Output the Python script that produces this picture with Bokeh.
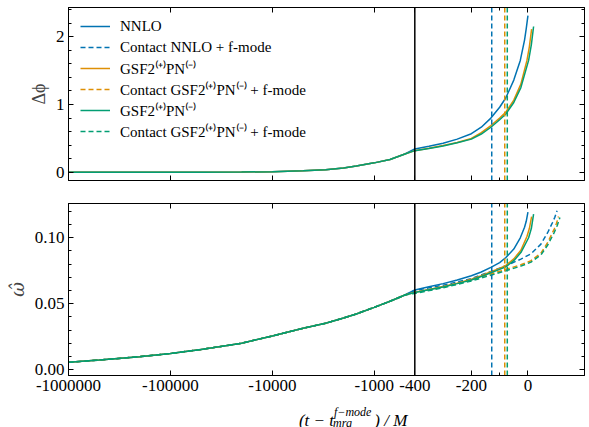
import numpy as np
from bokeh.plotting import figure
from bokeh.models import (Range1d, FixedTicker, LinearAxis, CustomJSTickFormatter,
                          Legend, LegendItem, PrintfTickFormatter)
from bokeh.core.properties import value
from bokeh.layouts import column
from bokeh.embed import file_html
from bokeh.resources import INLINE

# ---------------- data ----------------
x_tick_values = [-1000000, -100000, -10000, -1000, -400, -200, 0]
x_tick_labels = ["-1000000", "-100000", "-10000", "-1000", "-400", "-200", "0"]
x_minor_values = [-100]
x_limits = [-1000000, 200]
t_hybrid = -400

# common early inspiral (all models overlap)
t_early = [-1000000, -500000, -200000, -100000, -50000, -20000, -10000,
           -5000, -3000, -2000, -1500, -1000, -700, -500]
dphi_early = [0.0, 0.0, 0.0, 0.001, 0.002, 0.005, 0.01, 0.022, 0.040, 0.065, 0.095,
              0.14, 0.19, 0.27]
omega_early = [0.0055, 0.0072, 0.0098, 0.0122, 0.0152, 0.0200, 0.0255,
               0.0313, 0.0352, 0.0391, 0.0422, 0.0472, 0.0518, 0.0566]

# NNLO
t_nnlo = [-400, -350, -300, -250, -200, -165, -131, -100, -78, -50, -27, -12, -6, 0]
dphi_nnlo = [0.345, 0.385, 0.43, 0.49, 0.57, 0.665, 0.80, 0.96, 1.10, 1.36, 1.65, 1.95,
             2.12, 2.31]
omega_nnlo = [0.0604, 0.0628, 0.0652, 0.0680, 0.0712, 0.0740, 0.0775, 0.0812, 0.0850,
              0.0914, 0.1000, 0.1080, 0.1125, 0.1195]

# GSF2(+)PN(-) (orange)
t_gsf_a = [-400, -350, -300, -250, -200, -165, -131, -100, -78, -50, -25, -3.5, 5, 13]
dphi_gsf_a = [0.32, 0.355, 0.395, 0.44, 0.50, 0.585, 0.69, 0.80, 0.89, 1.065, 1.30,
              1.65, 1.85, 2.11]
omega_gsf_a = [0.0586, 0.0608, 0.0630, 0.0656, 0.0685, 0.0712, 0.0742, 0.0768, 0.0790,
               0.0840, 0.0905, 0.1010, 0.1070, 0.1161]

# GSF2(+)PN(-) (green)
t_gsf_b = [-400, -350, -300, -250, -200, -165, -131, -100, -78, -50, -25, 2.4, 12, 20]
dphi_gsf_b = [0.32, 0.352, 0.39, 0.435, 0.49, 0.565, 0.665, 0.775, 0.86, 1.03, 1.25,
              1.65, 1.88, 2.15]
omega_gsf_b = [0.0584, 0.0605, 0.0627, 0.0652, 0.0680, 0.0706, 0.0735, 0.0760, 0.0780,
               0.0826, 0.0888, 0.1000, 0.1070, 0.1180]

# Contact ... + f-mode (omega only)
t_c_nnlo = [-400, -300, -200, -131, -78, -25, 11, 46, 70, 87, 95, 103]
omega_c_nnlo = [0.0600, 0.0640, 0.0690, 0.0745, 0.0788, 0.0838, 0.0878, 0.0952,
                0.1040, 0.1116, 0.1155, 0.1205]
t_c_gsf_a = [-400, -300, -200, -131, -78, -25, 11, 46, 70, 93, 101, 108]
omega_c_gsf_a = [0.0583, 0.0625, 0.0678, 0.0725, 0.0760, 0.0795, 0.0826, 0.0884,
                 0.0965, 0.1066, 0.1110, 0.1161]
t_c_gsf_b = [-400, -300, -200, -131, -78, -25, 11, 46, 70, 93, 104, 113]
omega_c_gsf_b = [0.0578, 0.0620, 0.0672, 0.0716, 0.0750, 0.0785, 0.0815, 0.0870,
                 0.0945, 0.1040, 0.1095, 0.1154]

# contact times
t_contact = [-128, -82, -73]

labels = ["NNLO", "Contact NNLO + f-mode",
          "GSF2⁽⁺⁾PN⁽⁻⁾", "Contact GSF2⁽⁺⁾PN⁽⁻⁾ + f-mode",
          "GSF2⁽⁺⁾PN⁽⁻⁾", "Contact GSF2⁽⁺⁾PN⁽⁻⁾ + f-mode"]
colors = ["#0173b2", "#de8f05", "#029e73"]

# x-axis title pieces: (t − t_mrg^{f−mode}) / M
xlabel_main = ["(t − t", ") / M"]
xlabel_scripts = ["f−mode", "mrg"]

# -------------- symlog-like x transform --------------
LOGW = 101.8   # per decade
LINW = 0.2825  # per unit of t in the linear part


def fwd(t):
    t = np.asarray(t, dtype=float)
    return np.where(t <= t_hybrid,
                    -np.log10(np.maximum(-t, 1e-12) / -t_hybrid) * LOGW,
                    (t - t_hybrid) * LINW)


x_range = Range1d(float(fwd(x_limits[0])), float(fwd(x_limits[1])))
y1_range = Range1d(-0.12, 2.43)
y2_range = Range1d(-0.0045, 0.126)

xt_pos = [float(v) for v in fwd(x_tick_values)]
xt_minor = [float(v) for v in fwd(x_minor_values)]
x_ticker = FixedTicker(ticks=xt_pos, minor_ticks=xt_minor)
x_fmt = CustomJSTickFormatter(args=dict(pos=xt_pos, labs=x_tick_labels), code="""
for (let i = 0; i < pos.length; i++) { if (Math.abs(pos[i] - tick) < 1e-6) return labs[i]; }
return "";
""")
blank_fmt = CustomJSTickFormatter(code="return '';")

FONT = "Liberation Serif"


def style_axis(ax, show):
    ax.axis_line_color = "black"
    ax.axis_line_width = 1
    ax.major_tick_in = 5
    ax.major_tick_out = 0
    ax.minor_tick_in = 3
    ax.minor_tick_out = 0
    ax.major_tick_line_color = "black"
    ax.minor_tick_line_color = "black"
    ax.major_label_text_font = FONT
    ax.major_label_text_color = "black"
    if show:
        ax.major_label_text_font_size = "17px"
        ax.major_label_standoff = 4
    else:
        ax.major_label_text_font_size = "1px"
        ax.major_label_standoff = 0
        ax.axis_label_standoff = 0


def make_fig(height, yr, btop, bbot, yticker, yfmt, ylabel, yfont, ystyle, show_x):
    p = figure(width=589, height=height, x_range=x_range, y_range=yr,
               output_backend="svg", toolbar_location=None,
               x_axis_type=None, y_axis_type=None,
               min_border_left=68, min_border_right=5,
               min_border_top=btop, min_border_bottom=bbot)
    p.grid.visible = False
    p.outline_line_color = "black"
    p.background_fill_color = "white"
    p.border_fill_color = "white"

    xb = LinearAxis(ticker=x_ticker, formatter=x_fmt if show_x else blank_fmt)
    style_axis(xb, show_x)
    p.add_layout(xb, "below")
    xa = LinearAxis(ticker=x_ticker, formatter=blank_fmt)
    style_axis(xa, False)
    p.add_layout(xa, "above")

    yl = LinearAxis(ticker=yticker, formatter=yfmt, axis_label=ylabel)
    style_axis(yl, True)
    yl.axis_label_text_font = yfont
    yl.axis_label_text_font_size = "18px"
    yl.axis_label_text_font_style = ystyle
    yl.axis_label_standoff = 4
    p.add_layout(yl, "left")
    yr_ax = LinearAxis(ticker=yticker, formatter=blank_fmt)
    style_axis(yr_ax, False)
    p.add_layout(yr_ax, "right")
    return p


LW = 1.5
DASH = "5 3"

# ---------------- top panel ----------------
y1_ticker = FixedTicker(ticks=[0, 1, 2],
                        minor_ticks=[0.2, 0.4, 0.6, 0.8, 1.2, 1.4, 1.6, 1.8, 2.2, 2.4])
p1 = make_fig(190, y1_range, 7, 10, y1_ticker, PrintfTickFormatter(format="%d"),
              "Δϕ", FONT, "normal", False)

u_early = fwd(t_early)
r_nnlo = p1.line(np.concatenate([u_early, fwd(t_nnlo)]), dphi_early + dphi_nnlo,
                 line_color=colors[0], line_width=LW)
r_ga = p1.line(np.concatenate([u_early, fwd(t_gsf_a)]), dphi_early + dphi_gsf_a,
               line_color=colors[1], line_width=LW)
r_gb = p1.line(np.concatenate([u_early, fwd(t_gsf_b)]), dphi_early + dphi_gsf_b,
               line_color=colors[2], line_width=LW)
r_cont = []
for tc, c in zip(t_contact, colors):
    uc = float(fwd(tc))
    r_cont.append(p1.segment(x0=[uc], x1=[uc], y0=[y1_range.start], y1=[y1_range.end],
                             line_color=c, line_width=LW, line_dash=DASH))
uh = float(fwd(t_hybrid))
p1.segment(x0=[uh], x1=[uh], y0=[y1_range.start], y1=[y1_range.end],
           line_color="black", line_width=1.5)

legend = Legend(items=[
    LegendItem(label=labels[0], renderers=[r_nnlo]),
    LegendItem(label=labels[1], renderers=[r_cont[0]]),
    LegendItem(label=labels[2], renderers=[r_ga]),
    LegendItem(label=labels[3], renderers=[r_cont[1]]),
    LegendItem(label=labels[4], renderers=[r_gb]),
    LegendItem(label=labels[5], renderers=[r_cont[2]]),
], location=(8, 35))
legend.background_fill_alpha = 0
legend.border_line_alpha = 0
legend.padding = 4
legend.spacing = 1
legend.label_height = 20
legend.glyph_height = 20
legend.glyph_width = 30
legend.label_standoff = 10
legend.label_text_font = FONT
legend.label_text_font_size = "15px"
legend.label_text_color = "black"
p1.add_layout(legend, "center")

# ---------------- bottom panel ----------------
y2_ticker = FixedTicker(ticks=[0.0, 0.05, 0.10],
                        minor_ticks=[0.01, 0.02, 0.03, 0.04, 0.06, 0.07, 0.08, 0.09, 0.11, 0.12])
p2 = make_fig(210, y2_range, 13, 25, y2_ticker, PrintfTickFormatter(format="%.2f"),
              "ω̂", "DejaVu Serif", "italic", True)

p2.line(np.concatenate([u_early, fwd(t_nnlo)]), omega_early + omega_nnlo,
        line_color=colors[0], line_width=LW)
p2.line(np.concatenate([u_early, fwd(t_c_nnlo)]), omega_early + omega_c_nnlo,
        line_color=colors[0], line_width=LW, line_dash=DASH)
p2.line(np.concatenate([u_early, fwd(t_gsf_a)]), omega_early + omega_gsf_a,
        line_color=colors[1], line_width=LW)
p2.line(np.concatenate([u_early, fwd(t_c_gsf_a)]), omega_early + omega_c_gsf_a,
        line_color=colors[1], line_width=LW, line_dash=DASH)
p2.line(np.concatenate([u_early, fwd(t_gsf_b)]), omega_early + omega_gsf_b,
        line_color=colors[2], line_width=LW)
p2.line(np.concatenate([u_early, fwd(t_c_gsf_b)]), omega_early + omega_c_gsf_b,
        line_color=colors[2], line_width=LW, line_dash=DASH)
for tc, c in zip(t_contact, colors):
    uc = float(fwd(tc))
    p2.segment(x0=[uc], x1=[uc], y0=[y2_range.start], y1=[y2_range.end],
               line_color=c, line_width=LW, line_dash=DASH)
p2.segment(x0=[uh], x1=[uh], y0=[y2_range.start], y1=[y2_range.end],
           line_color="black", line_width=1.5)

# ---------------- x-axis title strip ----------------
p3 = figure(width=589, height=27, x_range=Range1d(0, 589), y_range=Range1d(0, 27),
            output_backend="svg", toolbar_location=None, title=None,
            x_axis_type=None, y_axis_type=None,
            min_border_left=0, min_border_right=0, min_border_top=0, min_border_bottom=0)
p3.grid.visible = False
p3.outline_line_color = None
p3.border_fill_color = "white"
p3.background_fill_color = "white"

# main-size pieces (left edge px, baseline px above strip bottom)
p3.text(x=[263, 349], y=[7, 7], text=xlabel_main, text_font=value(FONT),
        text_font_style="italic", text_font_size=value("17px"), text_color="black",
        text_baseline="alphabetic", text_align="left")
# superscript / subscript
p3.text(x=[303, 302], y=[15.5, 5], text=xlabel_scripts, text_font=value(FONT),
        text_font_style="italic", text_font_size=value("12px"), text_color="black",
        text_baseline="alphabetic", text_align="left")

layout = column(p1, p2, p3, spacing=0)
open("out.html", "w").write(file_html(layout, INLINE))
